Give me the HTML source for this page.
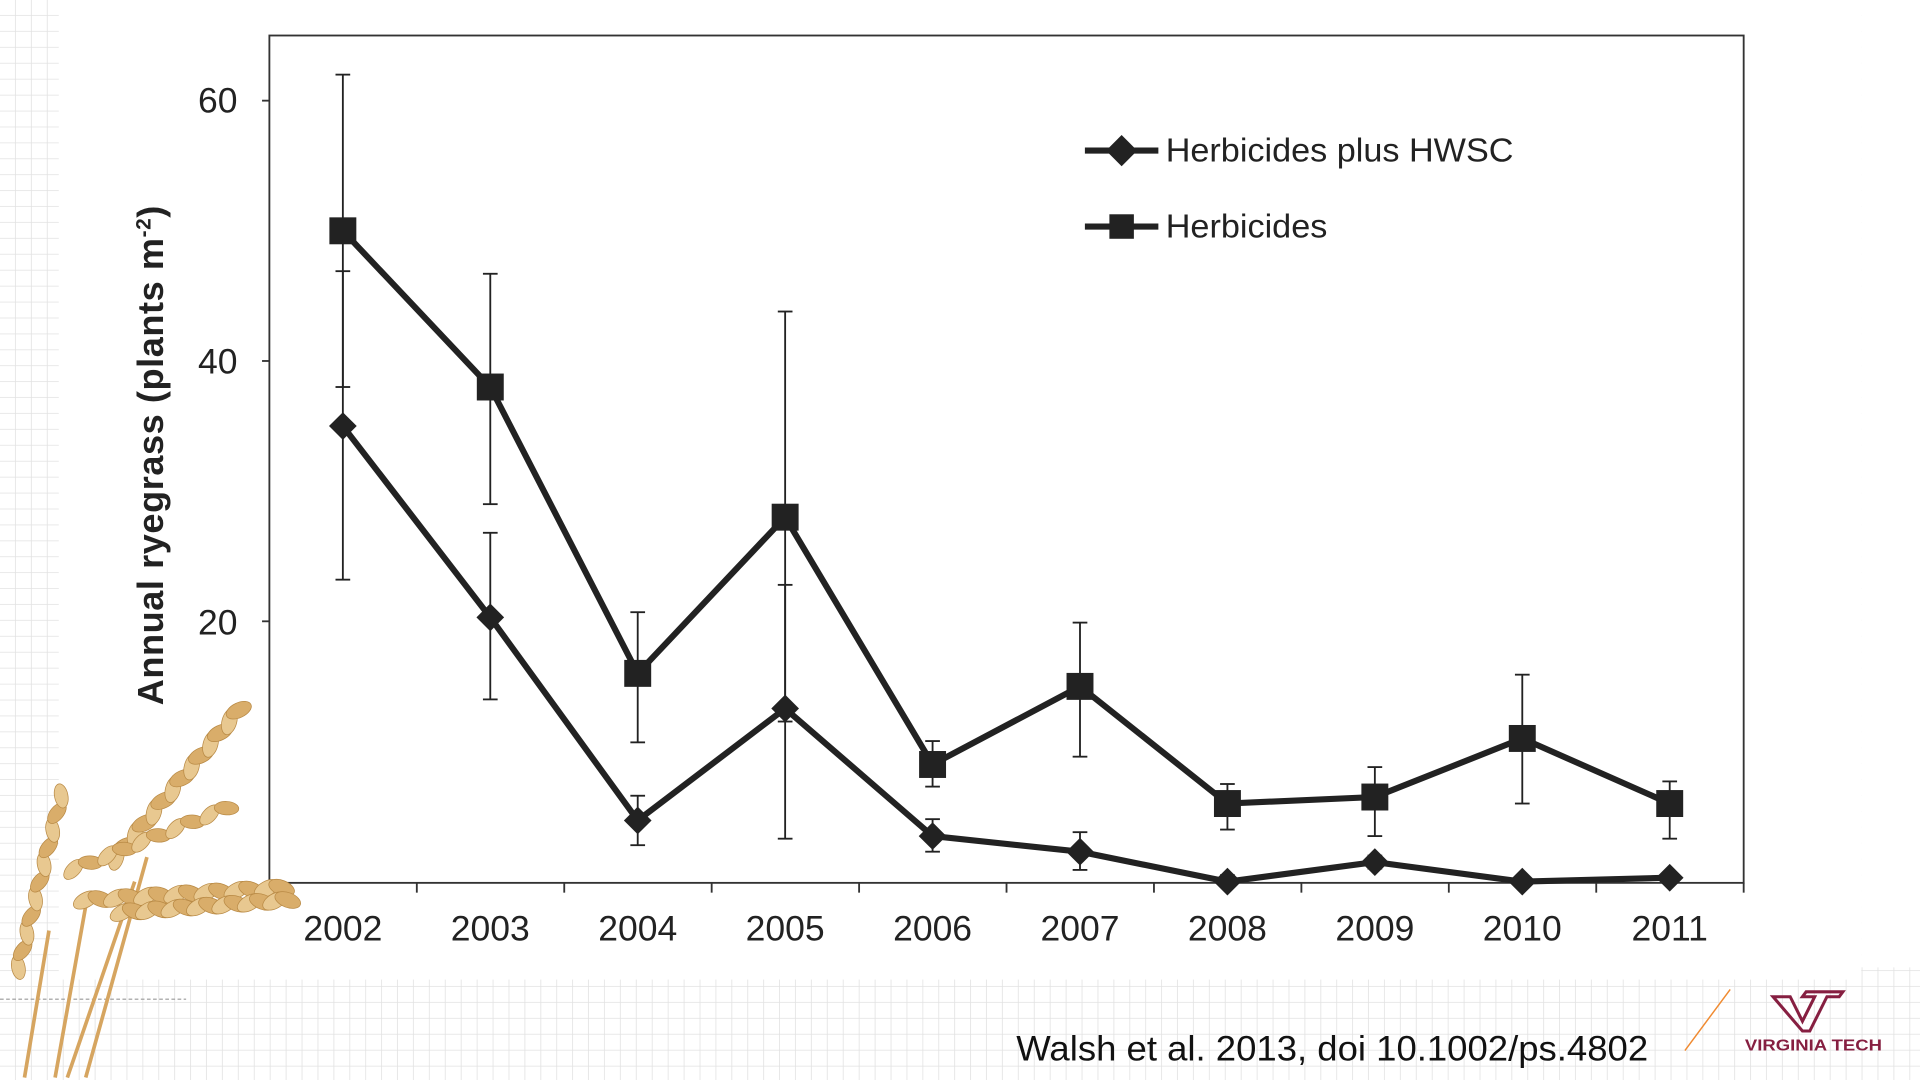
<!DOCTYPE html>
<html><head><meta charset="utf-8"><style>
html,body{margin:0;padding:0;background:#fff;}
svg{display:block}
</style></head><body>
<svg id="s" width="1920" height="1080" viewBox="0 0 1568 882" preserveAspectRatio="none" xmlns="http://www.w3.org/2000/svg">
<defs>
<pattern id="g" width="13" height="13" patternUnits="userSpaceOnUse">
<path d="M13 0V13M0 13H13" stroke="#e2e2e2" stroke-width="1.3" fill="none"/>
</pattern>
</defs>
<rect width="1568" height="882" fill="url(#g)"/>
<rect x="48" y="0" width="1472" height="800" fill="#fff"/>
<rect x="1520" y="0" width="48" height="790" fill="#fff"/>
<line x1="0" y1="816" x2="152" y2="816" stroke="#999" stroke-dasharray="3,2" stroke-width="1"/>
<rect x="220" y="29" width="1204" height="692" fill="none" stroke="#333" stroke-width="1.5"/>
<g id="ticks" stroke="#333" stroke-width="1.5"></g>
<g font-family="Liberation Sans, sans-serif" font-size="29" fill="#222" text-anchor="end">
<text x="194" y="92">60</text><text x="194" y="305">40</text><text x="194" y="518">20</text>
</g>
<g id="xl" font-family="Liberation Sans, sans-serif" font-size="29" fill="#222" text-anchor="middle"></g>
<text transform="translate(133,372) rotate(-90)" font-family="Liberation Sans, sans-serif" font-size="29.5" font-weight="bold" fill="#222" text-anchor="middle" textLength="408">Annual ryegrass (plants m<tspan font-size="17" dy="-10">-2</tspan><tspan dy="10">)</tspan></text>
<g id="data"></g>
<g>
<line x1="886" y1="123" x2="946" y2="123" stroke="#222" stroke-width="5"/>
<rect x="907" y="114" width="18" height="18" fill="#222" transform="rotate(45 916 123)"/>
<line x1="886" y1="185" x2="946" y2="185" stroke="#222" stroke-width="5"/>
<rect x="906" y="175" width="20" height="20" fill="#222"/>
<g font-family="Liberation Sans, sans-serif" font-size="27" fill="#222">
<text x="952" y="132" textLength="284" lengthAdjust="spacingAndGlyphs">Herbicides plus HWSC</text>
<text x="952" y="194" textLength="132" lengthAdjust="spacingAndGlyphs">Herbicides</text>
</g>
</g>
<g id="wheat"></g>
<text x="830" y="866" font-family="Liberation Sans, sans-serif" font-size="29" fill="#111" textLength="516" lengthAdjust="spacingAndGlyphs">Walsh et al. 2013, doi 10.1002/ps.4802</text>
<line x1="1376" y1="858" x2="1413" y2="808" stroke="#f08a30" stroke-width="1.2"/>
<path d="M1448 814h14l10 20 10-20h-10l3-4h30l-3 4h-10l-10 20-4 8h-6z" fill="none" stroke="#861f41" stroke-width="2.5"/>
<text x="1481" y="858" font-family="Liberation Sans, sans-serif" font-size="13" font-weight="bold" fill="#861f41" text-anchor="middle" textLength="112" lengthAdjust="spacingAndGlyphs">VIRGINIA TECH</text>
</svg>
<script>
var NS="http://www.w3.org/2000/svg";
function Y(v){return 720-v*10.63;}
function X(i){return 280+i*120.4;}
function el(p,t,a){var e=document.createElementNS(NS,t);for(var k in a)e.setAttribute(k,a[k]);p.appendChild(e);return e;}
var tk=document.getElementById('ticks'),xl=document.getElementById('xl'),d=document.getElementById('data');
for(var i=0;i<10;i++){var t=el(xl,'text',{x:X(i),y:768});t.textContent=2002+i;}
for(var i=0;i<=10;i++){el(tk,'line',{x1:220+i*120.4,y1:721,x2:220+i*120.4,y2:729});}
[20,40,60].forEach(function(v){el(tk,'line',{x1:214,y1:Y(v),x2:220,y2:Y(v)});});
var sq=[50,38,16,28,9,15,6,6.5,11,6];
var sqe=[[38,62],[29,46.7],[10.7,20.7],[12.3,43.8],[7.3,10.8],[9.6,19.9],[4,7.5],[3.5,8.8],[6,15.9],[3.3,7.7]];
var di=[35,20.3,4.7,13.3,3.5,2.3,0,1.5,0,0.3];
var die=[[23.2,46.9],[14,26.8],[2.8,6.6],[3.3,22.8],[2.3,4.8],[0.9,3.8],[0,0.5],[1,2],[0,0.3],[0,0.6]];
function eb(arr){arr.forEach(function(e,i){var x=X(i);el(d,'line',{x1:x,y1:Y(e[0]),x2:x,y2:Y(e[1]),stroke:'#222','stroke-width':1.5});
[e[0],e[1]].forEach(function(v){el(d,'line',{x1:x-6,y1:Y(v),x2:x+6,y2:Y(v),stroke:'#222','stroke-width':1.5});});});}
eb(sqe);eb(die);
function pl(a){return a.map(function(v,i){return X(i)+','+Y(v)}).join(' ');}
el(d,'polyline',{points:pl(sq),fill:'none',stroke:'#222','stroke-width':5});
el(d,'polyline',{points:pl(di),fill:'none',stroke:'#222','stroke-width':5});
sq.forEach(function(v,i){el(d,'rect',{x:X(i)-11,y:Y(v)-11,width:22,height:22,fill:'#222'});});
di.forEach(function(v,i){el(d,'rect',{x:X(i)-8,y:Y(v)-8,width:16,height:16,fill:'#222',transform:'rotate(45 '+X(i)+' '+Y(v)+')'});});
var w=document.getElementById('wheat');
function ear(x1,y1,x2,y2,n,s){for(var k=0;k<n;k++){var t=k/(n-1);var x=x1+(x2-x1)*t,y=y1+(y2-y1)*t;var ang=Math.atan2(y2-y1,x2-x1)*180/Math.PI;
el(w,'ellipse',{cx:x,cy:y,rx:s,ry:s*0.55,fill:k%2?'#d9ad6a':'#e8c890',stroke:'#b98a45','stroke-width':0.6,transform:'rotate('+(ang+(k%2?25:-25))+' '+x+' '+y+')'});}}
[[20,880,40,760],[45,880,70,740],[55,880,110,720],[70,880,120,700]].forEach(function(s){el(w,'line',{x1:s[0],y1:s[1],x2:s[2],y2:s[3],stroke:'#d6a560','stroke-width':3});});
ear(15,790,50,650,11,10);ear(95,700,195,580,14,11);ear(60,710,185,660,10,10);ear(70,735,230,725,14,11);ear(100,745,235,735,14,11);
</script>
</body></html>
